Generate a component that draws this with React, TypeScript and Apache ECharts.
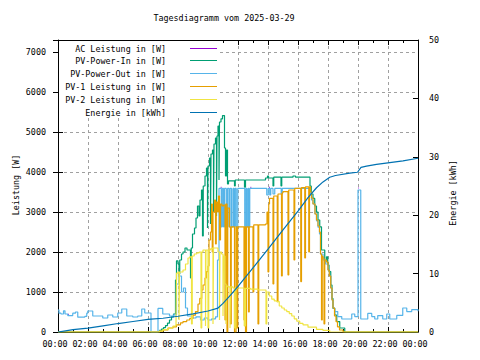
import React, { useEffect, useRef } from "react";
import * as echarts from "echarts";

const TITLE = "Tagesdiagramm vom 2025-03-29";
const LEFT_NAME = "Leistung [W]";
const RIGHT_NAME = "Energie [kWh]";
const SERIES_NAMES = [
  "AC Leistung in [W]",
  "PV-Power-In in [W]",
  "PV-Power-Out in [W]",
  "PV-1 Leistung in [W]",
  "PV-2 Leistung in [W]",
  "Energie in [kWh]",
];
const COLORS = ["#9400d3", "#009e73", "#56b4e9", "#e69f00", "#f0e442", "#0072b2"];
const TIME_TICKS = ["00:00", "02:00", "04:00", "06:00", "08:00", "10:00", "12:00", "14:00", "16:00", "18:00", "20:00", "22:00", "00:00"];

// [minute of day, value]; AC is almost entirely hidden below PV-Power-Out, only its visible samples are kept
const acPower: [number, number | null][] = [
  [40, 440], [43, 440], [44, null],
  [651, 3615], [654, 3615], [655, null],
  [770, 3615], [773, 3615], [774, null],
  [845, 3615], [848, 3615], [849, null],
  [1200, 3600], [1203, 3600],
];

const pvOut: [number, number][] = [
  [0, 550], [4, 470], [12, 450], [22, 530], [28, 450], [39, 410], [59, 470], [70, 500], [79, 370], [107, 390],
  [115, 470], [119, 525], [139, 400], [179, 350], [199, 425], [219, 375], [239, 475], [255, 575], [275, 400],
  [299, 375], [319, 400], [335, 575], [347, 475], [372, 0], [400, 590], [419, 450], [446, 400], [462, 430],
  [474, 1200], [484, 1400], [494, 1000], [502, 1100], [510, 600], [518, 400], [535, 350], [552, 380], [570, 300],
  [585, 350], [600, 300], [615, 330], [630, 380], [638, 1800],
  [644, 3590], [653, 2630], [657, 3590], [662, 2630], [666, 3590], [673, 2630], [678, 3590], [684, 2630],
  [688, 3590], [694, 2630], [700, 3590], [704, 2630], [708, 3590], [713, 2630], [719, 3590], [747, 2630],
  [752, 3590], [755, 2630], [760, 3590], [763, 2630], [767, 3590],
  [835, 3425], [841, 3590], [847, 3425], [851, 3590], [860, 3450], [867, 3590], [893, 3450], [897, 3590], [1005, 3590],
  [1009, 3450], [1014, 3300], [1020, 3200], [1028, 2950], [1034, 2780], [1040, 2620], [1046, 2450], [1050, 1950],
  [1060, 1800], [1070, 1700], [1080, 1550], [1086, 1400], [1091, 1100], [1096, 800], [1100, 600], [1107, 510],
  [1119, 385], [1135, 325], [1175, 450], [1187, 385], [1200, 3550], [1211, 325], [1239, 465], [1255, 385],
  [1267, 325], [1279, 410], [1299, 325], [1315, 450], [1327, 325], [1355, 415], [1379, 600], [1395, 510],
  [1415, 560], [1440, 520],
];

const pvIn: [number, number][] = [
  [0, 0], [402, 0], [406, 40], [414, 70], [422, 110], [430, 160], [438, 220], [446, 300], [454, 380], [462, 450],
  [470, 1300], [474, 1780], [480, 1700], [484, 1450], [487, 1800], [494, 1950], [500, 2000], [508, 2100], [516, 2050],
  [530, 1350], [533, 2100], [538, 2450], [546, 2600], [552, 2850], [558, 3150], [564, 2900], [568, 3300], [574, 3550],
  [578, 2400], [581, 3650], [588, 3900], [594, 4100], [598, 2600], [600, 4150], [606, 4350], [610, 2700], [612, 4450],
  [618, 4550], [622, 3000], [624, 4700], [630, 4850], [634, 2900], [636, 4900], [640, 5150], [644, 3800], [646, 5250],
  [652, 5330], [658, 5410], [666, 4600], [670, 3900], [674, 4550], [678, 3700], [682, 3780],
  [706, 3650], [709, 3800], [746, 3620], [750, 3800], [830, 3850], [838, 3900], [842, 3850], [860, 3650], [863, 3870],
  [892, 3650], [895, 3870], [940, 3900], [950, 3870], [1005, 3870],
  [1008, 3650], [1013, 3450], [1020, 3340], [1027, 3150], [1034, 3000], [1040, 2800], [1047, 2630], [1054, 2050],
  [1067, 1760], [1074, 1880], [1079, 1675], [1084, 1510], [1091, 1175], [1096, 840], [1100, 590], [1107, 425],
  [1115, 260], [1127, 100], [1147, 0], [1440, 0],
];

const pv1: [number, number][] = [
  [0, 0], [402, 0], [406, 20], [420, 50], [440, 100], [460, 130], [474, 180], [490, 230], [500, 260], [515, 300], [527, 340],
  [540, 420], [550, 510], [560, 700], [567, 840], [575, 1050], [580, 1175], [588, 1350], [594, 1510], [600, 1650],
  [604, 2300], [610, 2500], [614, 3200], [617, 2000], [620, 3000], [626, 3300], [630, 2200], [633, 3250], [638, 3000],
  [642, 3400], [646, 2300], [650, 3200], [656, 3150], [662, 3175], [668, 300], [671, 3200], [676, 0], [679, 3100], [686, 2630],
  [690, 200], [693, 2630], [706, 0], [712, 2630], [716, 100], [719, 2630], [744, 300], [747, 2630], [750, 0], [754, 2630],
  [762, 500], [765, 2630], [780, 1000], [783, 2680], [800, 200], [803, 2680], [830, 2700], [836, 3000], [840, 1500], [843, 3200],
  [846, 3340], [860, 1200], [863, 3400], [877, 760], [880, 3450], [894, 1400], [897, 3480], [900, 3510], [920, 1425], [923, 3550],
  [944, 1800], [947, 3590], [971, 1260], [974, 3610], [987, 1850], [990, 3630], [1003, 2000], [1006, 3630],
  [1010, 3500], [1014, 3350], [1020, 3200], [1028, 2950], [1034, 2800], [1040, 2650], [1046, 2500], [1050, 1950],
  [1054, 300], [1057, 1900], [1060, 1850], [1064, 200], [1067, 1800], [1074, 1750], [1080, 1550], [1085, 1400],
  [1091, 1100], [1096, 800], [1100, 600], [1106, 400], [1112, 260], [1118, 130], [1126, 50], [1140, 0], [1440, 0],
];

const pv2: [number, number][] = [
  [0, 0], [402, 0], [406, 20], [420, 60], [440, 100], [460, 150], [472, 175], [474, 1470], [480, 1500], [484, 300], [486, 1500],
  [500, 1550], [510, 1700], [520, 1850], [527, 1880], [534, 200], [537, 1900], [545, 1950], [555, 1980], [565, 2000],
  [572, 100], [575, 2000], [580, 2050], [590, 150], [592, 2050], [600, 100], [603, 2050], [610, 2080], [616, 2100],
  [620, 200], [622, 2100], [634, 2100], [640, 2000], [646, 300], [648, 2000], [654, 1950], [660, 400], [662, 1900],
  [668, 1200], [672, 200], [674, 1150], [680, 1130], [688, 100], [690, 1130], [700, 1100], [706, 100], [712, 1100],
  [745, 150], [750, 1090], [770, 1070], [800, 1050], [832, 200], [835, 1000], [845, 900], [855, 820], [865, 780], [875, 760],
  [885, 650], [895, 600], [905, 550], [915, 510], [925, 460], [935, 400], [945, 330], [955, 270], [967, 215], [980, 180],
  [1000, 120], [1034, 65], [1060, 40], [1087, 0], [1440, 0],
];

const energy: [number, number][] = [
  [0, 0], [30, 0.2], [60, 0.4], [120, 0.65], [180, 1.05], [240, 1.45], [300, 1.8], [360, 2.15], [372, 2.2], [420, 2.35],
  [480, 2.7], [540, 3.1], [600, 3.6], [640, 4.1], [660, 4.9], [690, 6.3], [720, 7.8], [780, 11.0], [840, 14.2], [900, 17.5],
  [960, 20.7], [1000, 23.0], [1034, 24.7], [1060, 25.7], [1087, 26.5], [1110, 26.8], [1167, 27.2], [1198, 27.35],
  [1212, 28.2], [1234, 28.4], [1274, 28.7], [1327, 29.0], [1380, 29.3], [1440, 29.75],
];

const FONT = '"DejaVu Sans Mono", monospace';
const FS = 8.4;
const FW = "normal";
const LW = 1.2;
const GRID = { left: 58, top: 40, width: 360, height: 292 };

export default function App() {
  const ref = useRef<HTMLDivElement>(null);
  useEffect(() => {
    if (!ref.current) return;
    const chart = echarts.init(ref.current, undefined, { renderer: "svg" });
    const black = "#000";
    const gridLine = { show: true, lineStyle: { color: "#a0a0a0", width: 1, type: [3, 3] as any } };
    const lineData: any[] = [acPower, pvIn, pvOut, pv1, pv2];
    const series: any[] = lineData.map((d, i) => ({
      name: SERIES_NAMES[i],
      type: "line",
      data: d,
      step: "end",
      symbol: "none",
      showSymbol: false,
      connectNulls: false,
      z: 5,
      lineStyle: { width: LW, color: COLORS[i] },
      itemStyle: { color: COLORS[i] },
      xAxisIndex: 0,
      yAxisIndex: 0,
    }));
    series.push({
      name: SERIES_NAMES[5],
      type: "line",
      data: energy,
      symbol: "none",
      showSymbol: false,
      z: 5,
      lineStyle: { width: LW, color: COLORS[5] },
      itemStyle: { color: COLORS[5] },
      xAxisIndex: 0,
      yAxisIndex: 1,
    });

    const txt = (extra: any) => ({ fontSize: FS, fontFamily: FONT, fontWeight: FW, fill: black, ...extra });

    const legendGraphics: any[] = [
      {
        type: "rect",
        z: 3,
        shape: { x: 59, y: 41, width: 161, height: 76 },
        style: { fill: "#fff", stroke: null },
      },
    ];
    SERIES_NAMES.forEach((n, i) => {
      const yy = Math.round(47.5 + i * 12.9) + 0.5;
      legendGraphics.push({
        type: "text",
        z: 4,
        x: 166,
        y: yy,
        style: txt({ text: n, align: "right", verticalAlign: "middle" }),
      });
      legendGraphics.push({
        type: "line",
        z: 4,
        shape: { x1: 190, y1: yy, x2: 217, y2: yy },
        style: { stroke: COLORS[i], lineWidth: 1 },
      });
    });

    const labelStyle = { fontSize: FS, fontFamily: FONT, fontWeight: FW, color: black };

    const option: any = {
      animation: false,
      textStyle: { fontFamily: FONT },
      grid: { ...GRID, containLabel: false },
      xAxis: [
        {
          type: "value",
          min: 0,
          max: 1440,
          interval: 120,
          axisLine: { show: true, lineStyle: { color: black, width: 1 } },
          axisTick: { show: true, inside: true, length: 5, lineStyle: { color: black } },
          minorTick: { show: true, splitNumber: 2, length: 3, lineStyle: { color: black } },
          splitLine: gridLine,
          axisLabel: {
            ...labelStyle,
            margin: 8,
            padding: [0, 6, 0, 0],
            formatter: (v: number) => TIME_TICKS[Math.round(v / 120)] ?? "",
          },
        },
        {
          type: "value",
          position: "top",
          min: 0,
          max: 1440,
          interval: 120,
          axisLine: { show: true, onZero: false, lineStyle: { color: black, width: 1 } },
          axisTick: { show: true, inside: true, length: 5, lineStyle: { color: black } },
          minorTick: { show: true, splitNumber: 2, length: 3, lineStyle: { color: black } },
          splitLine: { show: false },
          axisLabel: { show: false },
        },
      ],
      yAxis: [
        {
          type: "value",
          position: "left",
          min: 0,
          max: 7300,
          interval: 1000,
          axisLine: { show: true, onZero: false, lineStyle: { color: black, width: 1 } },
          axisTick: { show: true, inside: true, length: 5, lineStyle: { color: black } },
          splitLine: gridLine,
          axisLabel: {
            ...labelStyle,
            margin: 12,
            padding: [0, 0, 4, 0],
            formatter: (v: number) => (v % 1000 === 0 ? String(v) : ""),
          },
        },
        {
          type: "value",
          position: "right",
          min: 0,
          max: 50,
          interval: 10,
          axisLine: { show: true, onZero: false, lineStyle: { color: black, width: 1 } },
          axisTick: { show: true, inside: true, length: 5, lineStyle: { color: black } },
          splitLine: { show: false },
          axisLabel: { ...labelStyle, margin: 11, padding: [0, 0, 4, 0] },
        },
        {
          type: "value",
          position: "right",
          min: 0,
          max: 7300,
          interval: 1000,
          axisLine: { show: false },
          axisTick: { show: true, inside: true, length: 5, lineStyle: { color: black } },
          splitLine: { show: false },
          axisLabel: { show: false },
        },
      ],
      series,
      graphic: [
        { type: "text", x: 224, y: 18, style: txt({ text: TITLE, align: "center", verticalAlign: "middle" }) },
        {
          type: "text",
          x: 16,
          y: 185,
          rotation: Math.PI / 2,
          style: txt({ text: LEFT_NAME, align: "center", verticalAlign: "middle" }),
        },
        {
          type: "text",
          x: 453,
          y: 193,
          rotation: Math.PI / 2,
          style: txt({ text: RIGHT_NAME, align: "center", verticalAlign: "middle" }),
        },
        ...legendGraphics,
      ],
    };
    chart.setOption(option);
    return () => chart.dispose();
  }, []);
  return (
    <div
      ref={ref}
      style={{ position: "fixed", left: 0, top: 0, width: 480, height: 360, background: "#fff" }}
    />
  );
}
